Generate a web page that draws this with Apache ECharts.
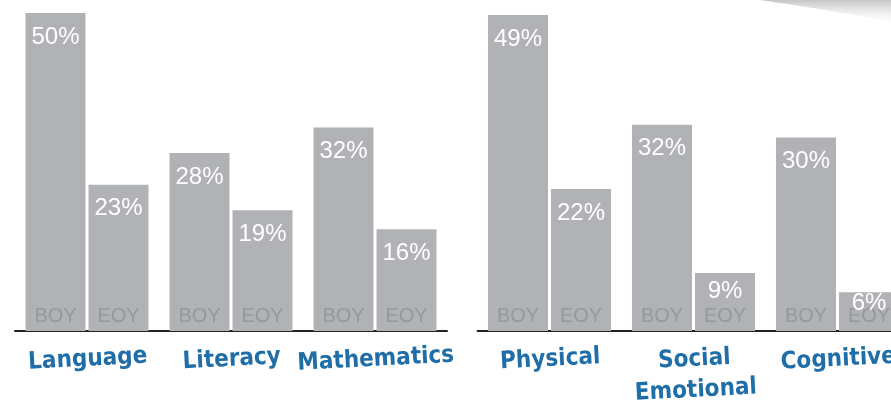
<!DOCTYPE html>
<html>
<head>
<meta charset="utf-8">
<script src="https://cdn.jsdelivr.net/npm/echarts@6/dist/echarts.min.js"></script>
<style>html,body{margin:0;padding:0;background:#fff}#c{width:891px;height:404px}</style>
</head>
<body>
<div id="c"></div>
<script>
const categoriesLeft = ['Language', 'Literacy', 'Mathematics'];
const boyLeft = [50, 28, 32];
const eoyLeft = [23, 19, 16];
const categoriesRight = ['Physical', 'Social Emotional', 'Cognitive'];
const boyRight = [49, 32, 30];
const eoyRight = [22, 9, 6];
const phaseLabels = ['BOY', 'EOY'];

const BAR = '#b0b2b5';
const catFont = '"DejaVu Sans Condensed", "DejaVu Sans", sans-serif';
const numFont = '"Liberation Sans", Arial, sans-serif';

function xAxis(cats, gi) {
  return {
    type: 'category', gridIndex: gi, data: cats,
    axisLine: { lineStyle: { color: '#222222', width: 2 } },
    axisTick: { show: false },
    axisLabel: {
      interval: 0, margin: 13, rotate: 3, align: 'center', verticalAlign: 'top',
      color: '#1f6ea8', fontFamily: catFont, fontWeight: 'bold', fontSize: 24, lineHeight: 31,
      formatter: v => v.replace(' ', '\n')
    }
  };
}
function yAxis(gi, max) {
  return { type: 'value', gridIndex: gi, min: 0, max: max, show: false, splitLine: { show: false } };
}
// short bars keep their value label tucked closer to the bar top
function topDistance(v) { return v >= 10 ? 12 : (v >= 8 ? 6 : -1); }

function seriesFor(gi, boy, eoy) {
  const out = [];
  [[boy, 0], [eoy, 1]].forEach(([vals, k]) => {
    out.push({
      type: 'bar', xAxisIndex: gi, yAxisIndex: gi, stack: 's' + gi + k,
      barWidth: 60, barGap: '5%', silent: true,
      data: vals.map(() => 0),
      itemStyle: { color: 'rgba(0,0,0,0)' },
      label: { show: true, position: 'insideBottom', distance: 5, formatter: phaseLabels[k],
        color: '#96989b', fontFamily: numFont, fontSize: 20 }
    });
    out.push({
      type: 'bar', xAxisIndex: gi, yAxisIndex: gi, stack: 's' + gi + k,
      barWidth: 60, barGap: '5%',
      data: vals.map(v => ({ value: v, label: { distance: topDistance(v) } })),
      itemStyle: { color: BAR },
      label: { show: true, position: 'insideTop', formatter: '{c}%',
        color: '#ffffff', fontFamily: numFont, fontSize: 24 }
    });
  });
  return out;
}

const chart = echarts.init(document.getElementById('c'), null, { renderer: 'canvas' });
chart.setOption({
  animation: false,
  backgroundColor: '#ffffff',
  grid: [
    { left: 15, width: 432, top: 13, bottom: 73, outerBoundsMode: 'none', containLabel: false },
    { left: 477.5, width: 432, top: 15, bottom: 73, outerBoundsMode: 'none', containLabel: false }
  ],
  xAxis: [xAxis(categoriesLeft, 0), xAxis(categoriesRight, 1)],
  yAxis: [yAxis(0, 50), yAxis(1, 49)],
  series: [].concat(seriesFor(0, boyLeft, eoyLeft), seriesFor(1, boyRight, eoyRight)),
  graphic: [{
    type: 'polygon', silent: true, z: -1,
    shape: { points: [[760, 0], [891, 0], [891, 22], [850, 14], [800, 6]] },
    style: { fill: new echarts.graphic.LinearGradient(0, 0, 0, 1, [
      { offset: 0, color: 'rgba(150,150,150,0.55)' }, { offset: 1, color: 'rgba(230,230,230,0.1)' }]) }
  }]
});
</script>
</body>
</html>
